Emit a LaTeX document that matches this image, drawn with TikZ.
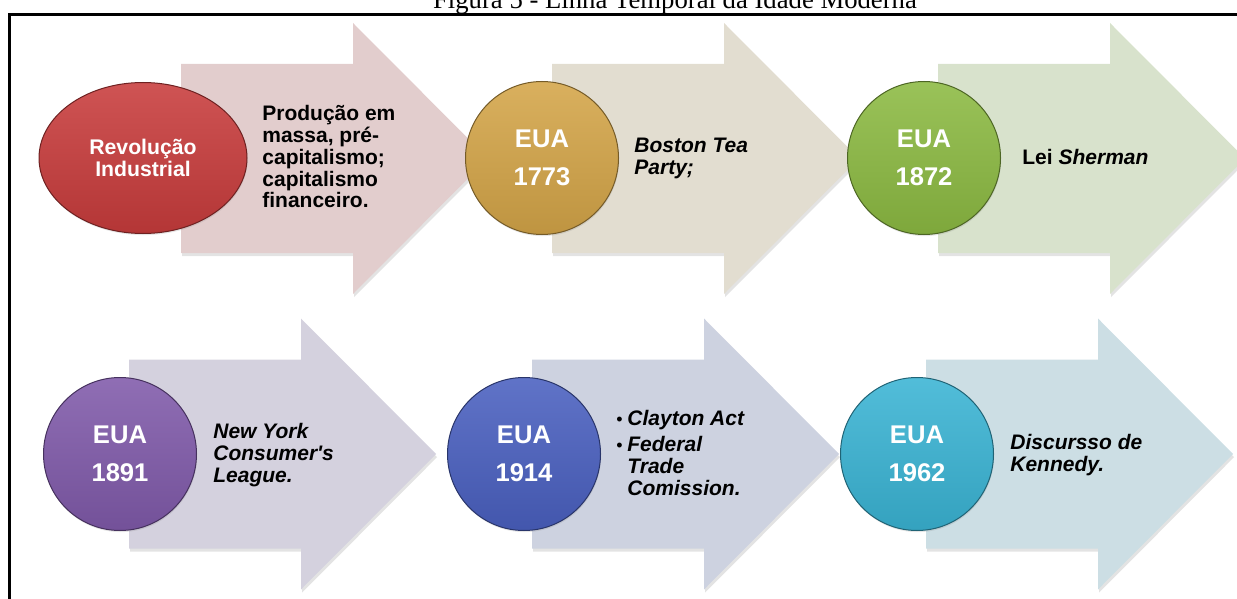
\documentclass[tikz,border=0pt]{standalone}
\usepackage{fontspec}
\setmainfont{Liberation Sans}[Ligatures=TeXOff]
\newfontfamily\titlefont{Liberation Serif}
\usetikzlibrary{shapes.geometric,shadows}

\definecolor{redball}{HTML}{C83C3C}
\definecolor{goldball}{HTML}{D4A548}
\definecolor{greenball}{HTML}{8CBA42}
\definecolor{purpleball}{HTML}{805AAA}
\definecolor{blueball}{HTML}{4A60C0}
\definecolor{cyanball}{HTML}{3AB4D4}
\definecolor{arrowpink}{HTML}{E2CDCD}
\definecolor{arrowsand}{HTML}{E2DDD0}
\definecolor{arrowgreen}{HTML}{D8E2CC}
\definecolor{arrowlilac}{HTML}{D4D1DE}
\definecolor{arrowsteel}{HTML}{CDD2E0}
\definecolor{arrowsky}{HTML}{CCDEE4}

\begin{document}
\begin{tikzpicture}[x=0.5pt, y=-0.5pt,
timearrow/.style={drop shadow={shadow xshift=0.5pt, shadow yshift=-1.6pt, opacity=0.22}},
bubble/.style={circle, minimum size=76.5pt, inner sep=0pt, align=center, text=white,
  draw=#1!55!black, line width=0.5pt, top color=#1!88!white, bottom color=#1!90!black,
  drop shadow={shadow xshift=0.3pt, shadow yshift=-0.8pt, opacity=0.2},
  font=\bfseries\fontsize{12.8pt}{18.85pt}\selectfont},
note/.style={anchor=west, align=left, inner sep=0pt, text=black,
  font=\bfseries\fontsize{10.5pt}{10.9pt}\selectfont}
]
\useasboundingbox (0,0) rectangle (1237,599);

%Frame
\draw[line width=1.3pt] (9.5,599) -- (9.5,14.3) -- (1237,14.3);

%Arrows
\foreach \x/\y/\c in {181/158.5/arrowpink, 552/158.5/arrowsand, 938/158.5/arrowgreen,
                      129/454/arrowlilac, 532/454/arrowsteel, 926/454/arrowsky}
  \fill[timearrow, fill=\c, shift={(\x,\y)}]
    (0,-94.5) -- (172,-94.5) -- (172,-135.5) -- (307,0) -- (172,135.5) -- (172,94.5) -- (0,94.5) -- cycle;

%Nodes
\node[bubble=redball, ellipse, minimum width=104pt, minimum height=75.5pt,
      font=\bfseries\fontsize{10.6pt}{10.65pt}\selectfont] (rev) at (143,158) {Revolução\\Industrial};
\node[bubble=goldball]   (eua1773) at (542,158) {EUA\\1773};
\node[bubble=greenball]  (eua1872) at (924,158) {EUA\\1872};
\node[bubble=purpleball] (eua1891) at (120,454) {EUA\\1891};
\node[bubble=blueball]   (eua1914) at (524,454) {EUA\\1914};
\node[bubble=cyanball]   (eua1962) at (917,454) {EUA\\1962};

%Texts
\node[note] (n-rev)  at (262,156.7)  {Produção em\\massa, pré-\\capitalismo;\\capitalismo\\financeiro.};
\node[note] (n-1773) at (634,158.5)  {\textit{Boston Tea}\\\textit{Party;}};
\node[note] (n-1872) at (1022,157.4) {Lei \textit{Sherman}};
\node[note] (n-1891) at (213,455)    {\textit{New York}\\\textit{Consumer's}\\\textit{League.}};
\node[note] (n-1914) at (616,452.9)  {\makebox[5.5pt][l]{\mdseries\small •}\textit{Clayton Act}\\[2.1pt]
                                      \makebox[5.5pt][l]{\mdseries\small •}\textit{Federal}\\
                                      \hspace*{5.5pt}\textit{Trade}\\
                                      \hspace*{5.5pt}\textit{Comission.}};
\node[note] (n-1962) at (1010,455.4) {\textit{Discursso de}\\\textit{Kennedy.}};

%Title
\node[anchor=base, inner sep=0pt, font=\titlefont\fontsize{13.35pt}{16pt}\selectfont]
  (title) at (675,8.5) {Figura 5 - Linha Temporal da Idade Moderna};
\end{tikzpicture}
\end{document}
